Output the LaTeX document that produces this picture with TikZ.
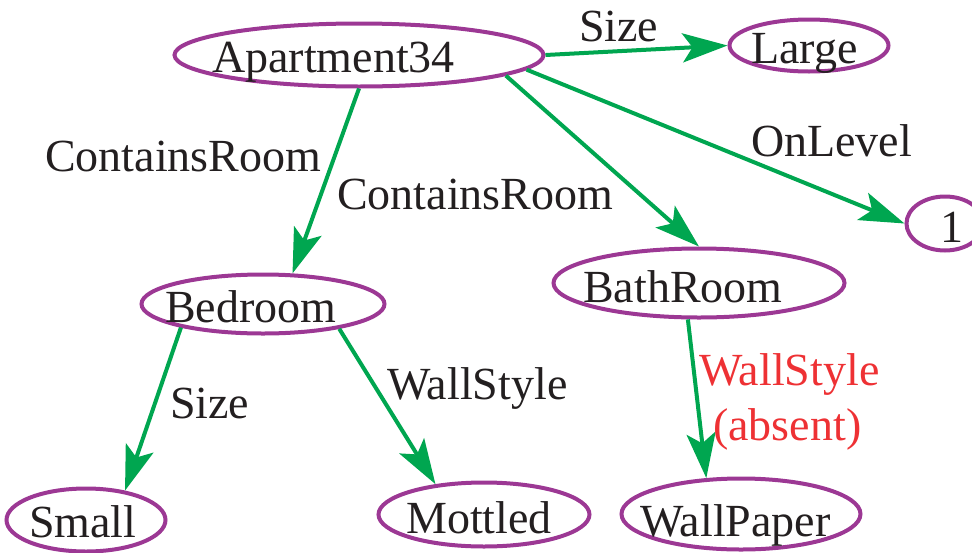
\documentclass[tikz,border=0pt]{standalone}
\usepackage{fontspec}
\setmainfont{Liberation Serif}
\usetikzlibrary{shapes.geometric,arrows.meta}
\definecolor{ellpurple}{RGB}{156,56,148}
\definecolor{arrgreen}{RGB}{0,166,80}
\definecolor{lblred}{RGB}{238,49,52}
\definecolor{txtblack}{RGB}{35,31,32}
\tikzset{
  ell/.style={ellipse, draw=ellpurple, line width=4pt, inner sep=0pt},
  txt/.style={anchor=base west, inner sep=0pt, text=txtblack, font=\fontsize{46}{50}\selectfont},
  redtxt/.style={txt, text=lblred},
  arr/.style={draw=arrgreen, line width=4pt, -{Stealth[length=45pt,width=29pt,inset=10pt]}}
}
\begin{document}
\begin{tikzpicture}[x=1pt,y=-1pt]
\useasboundingbox (0,0) rectangle (972,552);
% ellipses
\node[ell, minimum width=369pt, minimum height=63pt] (apt) at (359,55) {};
\node[ell, minimum width=159pt, minimum height=52pt] (large) at (809,45.5) {};
\node[ell, minimum width=77pt, minimum height=54pt] (one) at (945,223.5) {};
\node[ell, minimum width=243pt, minimum height=59pt] (bed) at (263,304) {};
\node[ell, minimum width=291pt, minimum height=69pt] (bath) at (699,283) {};
\node[ell, minimum width=159pt, minimum height=63pt] (small) at (86,520) {};
\node[ell, minimum width=211pt, minimum height=64pt] (mot) at (484,514.5) {};
\node[ell, minimum width=239pt, minimum height=71pt] (wp) at (741,514) {};
% node texts
\node[txt] (taptext) at (212,72) {Apartment34};
\node[txt] (tlarge) at (751,63) {Large};
\node[txt] (tone) at (940,242) {1};
\node[txt] (tbed) at (165,322) {Bedroom};
\node[txt] (tbath) at (583,302) {BathRoom};
\node[txt] (tsmall) at (29,537) {Small};
\node[txt] (tmot) at (406,533) {Mottled};
\node[txt] (twp) at (640,536) {WallPaper};
% connectors
\draw[arr] (apt.east) -- (large.west);
\draw[arr] (apt.-5) -- (one.west);
\draw[arr] (apt.-8.6) -- (bath.north);
\draw[arr] (apt.south) -- (bed.46);
\draw[arr] (bed.-164) -- (small.37);
\draw[arr] (bed.-18) -- (mot.148);
\draw[arr] (bath.-107) -- (wp.134);
% edge labels
\node[txt] (lsize1) at (579,41) {Size};
\node[txt] (lonlevel) at (751,156) {OnLevel};
\node[txt] (lcont1) at (45,171) {ContainsRoom};
\node[txt] (lcont2) at (337,209) {ContainsRoom};
\node[txt] (lsize2) at (170,418) {Size};
\node[txt] (lwall) at (387,399) {WallStyle};
\node[redtxt] (lwallred) at (699,385) {WallStyle};
\node[redtxt] (labsent) at (713,440) {(absent)};
\end{tikzpicture}
\end{document}
